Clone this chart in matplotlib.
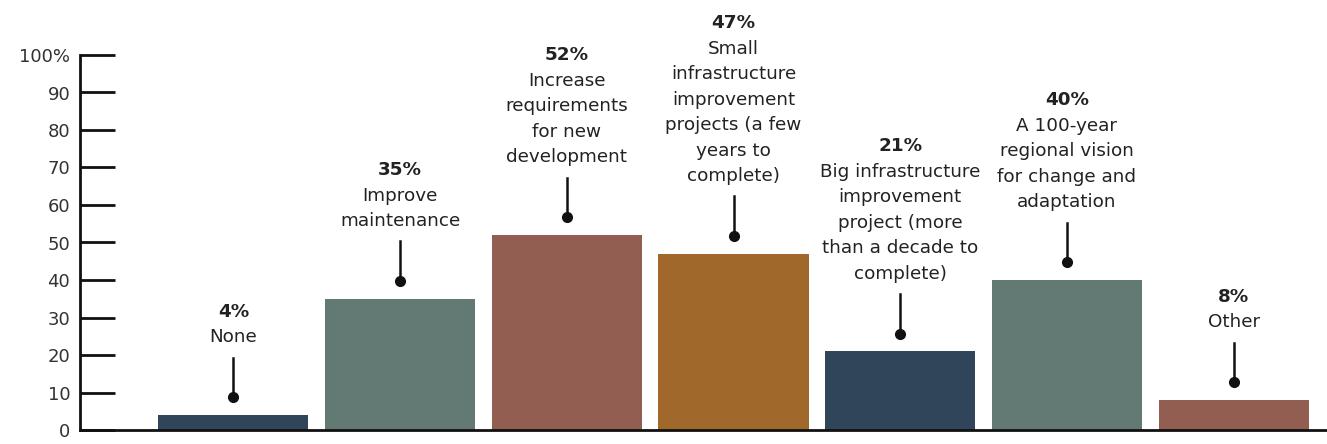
import matplotlib.pyplot as plt

categories = [
    "None",
    "Improve\nmaintenance",
    "Increase\nrequirements\nfor new\ndevelopment",
    "Small\ninfrastructure\nimprovement\nprojects (a few\nyears to\ncomplete)",
    "Big infrastructure\nimprovement\nproject (more\nthan a decade to\ncomplete)",
    "A 100-year\nregional vision\nfor change and\nadaptation",
    "Other",
]
values = [4, 35, 52, 47, 21, 40, 8]
colors = ["#30445a", "#627a73", "#915e51", "#a1682c", "#30445a", "#627a73", "#915e51"]
yticks = [0, 10, 20, 30, 40, 50, 60, 70, 80, 90, 100]
ytick_labels = ["0", "10", "20", "30", "40", "50", "60", "70", "80", "90", "100%"]

fig = plt.figure(figsize=(13.27, 4.44), dpi=100)
ax = fig.add_axes([80 / 1327, 14 / 444, 1 - 80 / 1327, 375 / 444])

x = list(range(len(values)))
ax.bar(x, values, width=0.9, color=colors, zorder=2)

ax.set_xlim(-0.92, 6.56)
ax.set_ylim(0, 100)
ax.set_yticks(yticks)
ax.set_yticklabels(ytick_labels, fontsize=13, color="#333333")
ax.set_xticks([])
ax.tick_params(axis="y", direction="in", length=25, width=2, pad=7, color="#111111")
for s in ["top", "right"]:
    ax.spines[s].set_visible(False)
ax.spines["left"].set_linewidth(2)
ax.spines["bottom"].set_linewidth(2)
ax.spines["left"].set_color("#111111")
ax.spines["bottom"].set_color("#111111")

# stems, dots and labels above each bar
step = 25.5 * 0.72  # line step in points
for xi, v, lab in zip(x, values, categories):
    ax.plot([xi, xi], [v + 4.7, v + 15.3], color="#111111", lw=1.8, clip_on=False, zorder=3)
    ax.plot(xi, v + 4.7, "o", color="#111111", ms=7, clip_on=False, zorder=3)
    lines = lab.split("\n")
    for k, line in enumerate(reversed(lines)):
        ax.annotate(line, (xi, v + 18.3), xytext=(0, k * step), textcoords="offset points",
                    ha="center", va="bottom", fontsize=13.2, color="#222222", annotation_clip=False)
    ax.annotate(f"{v}%", (xi, v + 18.3), xytext=(0, len(lines) * step), textcoords="offset points",
                ha="center", va="bottom", fontsize=13.2, fontweight="bold", color="#222222",
                annotation_clip=False)

fig.savefig("out.png", dpi=100)
